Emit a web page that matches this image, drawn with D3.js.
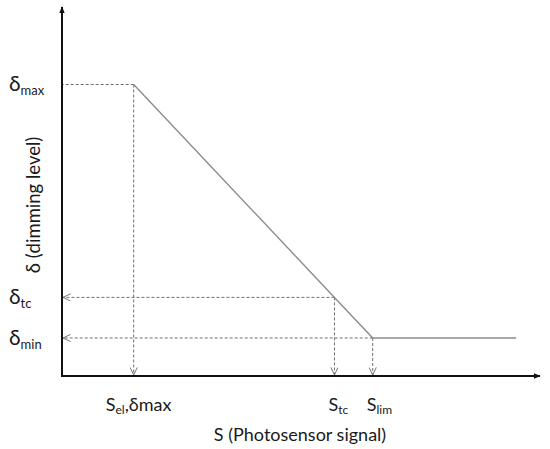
<!DOCTYPE html>
<html lang="en">
    <head>
        <meta charset="utf-8">
        <title>Dimming level vs photosensor signal</title>
        <script type="text/javascript" src="https://cdn.jsdelivr.net/npm/d3@7/dist/d3.min.js"></script>
        <style type="text/css">
        body { margin: 0; background: #fff; }
        text { font-family: Lato, "Open Sans", sans-serif; fill: #1a1a1a; }
        .curve { fill: none; stroke: #8c8c8c; stroke-width: 1.4px; }
        .guide { fill: none; stroke: #6f6f6f; stroke-width: 1px; stroke-dasharray: 3,2; }
        .axis-line { stroke: #111; stroke-width: 2px; }
		</style>
    </head>
    <body>
        <script type="text/javascript">

            // control curve points (signal S, dimming delta)
            var curveS = [15, 57, 65, 95];
            var curveD = [79, 21.3, 10.3, 10.3];

            // guide levels
            var levelNames = ["max", "tc", "min"];
            var levelD = [79, 21.3, 10.3];
            var levelS = [15, 57, 65];

            // x tick labels
            var xTickS = [15, 57, 65];
            var xTickMain = ["S", "S", "S"];
            var xTickSub = ["el", "tc", "lim"];
            var xTickTail = [",δmax", "", ""];

            var width = 550, height = 449;

            var svg = d3.select("body")
                        .append("svg")
                            .attr("width", width)
                            .attr("height", height);

            var x = d3.scaleLinear().domain([0, 100]).range([62, 540]);
            var y = d3.scaleLinear().domain([0, 100]).range([376, 7]);

            // arrow markers
            var defs = svg.append("defs");
            defs.append("marker")
                .attr("id", "axisArrow")
                .attr("viewBox", "0 0 10 10")
                .attr("refX", 9).attr("refY", 5)
                .attr("markerWidth", 7).attr("markerHeight", 7)
                .attr("markerUnits", "userSpaceOnUse")
                .attr("orient", "auto")
              .append("path")
                .attr("d", "M0,1 L10,5 L0,9 Z")
                .attr("fill", "#111");
            defs.append("marker")
                .attr("id", "openArrow")
                .attr("viewBox", "0 0 10 10")
                .attr("refX", 9.5).attr("refY", 5)
                .attr("markerWidth", 8).attr("markerHeight", 8)
                .attr("markerUnits", "userSpaceOnUse")
                .attr("orient", "auto")
              .append("path")
                .attr("d", "M0,0.5 L9.5,5 L0,9.5")
                .attr("fill", "none")
                .attr("stroke", "#6f6f6f")
                .attr("stroke-width", 1.2);

            // horizontal guides from the curve back to the y axis
            svg.selectAll(".hguide")
                .data(d3.range(levelD.length))
                .enter().append("line")
                .attr("class", "guide")
                .attr("x1", function(i) { return x(levelS[i]); })
                .attr("y1", function(i) { return y(levelD[i]); })
                .attr("x2", x(0) + 1)
                .attr("y2", function(i) { return y(levelD[i]); })
                .attr("marker-end", function(i) { return i == 0 ? null : "url(#openArrow)"; });

            // vertical guides down to the x axis
            svg.selectAll(".vguide")
                .data(d3.range(xTickS.length))
                .enter().append("line")
                .attr("class", "guide")
                .attr("x1", function(i) { return x(xTickS[i]); })
                .attr("y1", function(i) { return y(levelD[i]); })
                .attr("x2", function(i) { return x(xTickS[i]); })
                .attr("y2", y(0) - 1)
                .attr("marker-end", "url(#openArrow)");

            // the dimming curve
            var line = d3.line()
                .x(function(i) { return x(curveS[i]); })
                .y(function(i) { return y(curveD[i]); });
            svg.append("path")
                .attr("class", "curve")
                .attr("d", line(d3.range(curveS.length)));

            // axes
            svg.append("line")
                .attr("class", "axis-line")
                .attr("x1", x(0)).attr("y1", y(0) + 1)
                .attr("x2", x(0)).attr("y2", y(100))
                .attr("marker-end", "url(#axisArrow)");
            svg.append("line")
                .attr("class", "axis-line")
                .attr("x1", x(0) - 1).attr("y1", y(0))
                .attr("x2", x(100)).attr("y2", y(0))
                .attr("marker-end", "url(#axisArrow)");

            // y level labels
            var yl = svg.selectAll(".ylab")
                .data(d3.range(levelNames.length))
                .enter().append("text")
                .attr("class", "ylab")
                .attr("x", 9)
                .attr("y", function(i) { return y(levelD[i]) + 7; })
                .style("font-size", "21px");
            yl.append("tspan").text("δ");
            yl.append("tspan")
                .attr("dy", 4)
                .style("font-size", "13px")
                .text(function(i) { return levelNames[i]; });

            // x tick labels
            var xl = svg.selectAll(".xlab")
                .data(d3.range(xTickS.length))
                .enter().append("text")
                .attr("class", "xlab")
                .attr("x", function(i) { return x(xTickS[i]) - (i == 0 ? 28 : 6); })
                .attr("y", 411)
                .style("font-size", "18px");
            xl.append("tspan").text(function(i) { return xTickMain[i]; });
            xl.append("tspan")
                .attr("dy", 3)
                .style("font-size", "12px")
                .text(function(i) { return xTickSub[i]; });
            xl.append("tspan")
                .attr("dy", -3)
                .text(function(i) { return xTickTail[i]; });

            // axis titles
            svg.append("text")
                .attr("x", 300)
                .attr("y", 441)
                .style("font-size", "18px")
                .style("text-anchor", "middle")
                .text("S (Photosensor signal)");

            svg.append("text")
                .attr("transform", "translate(40,205) rotate(-90)")
                .style("font-size", "18.5px")
                .style("text-anchor", "middle")
                .text("δ (dimming level)");
        </script>
    </body>
</html>
